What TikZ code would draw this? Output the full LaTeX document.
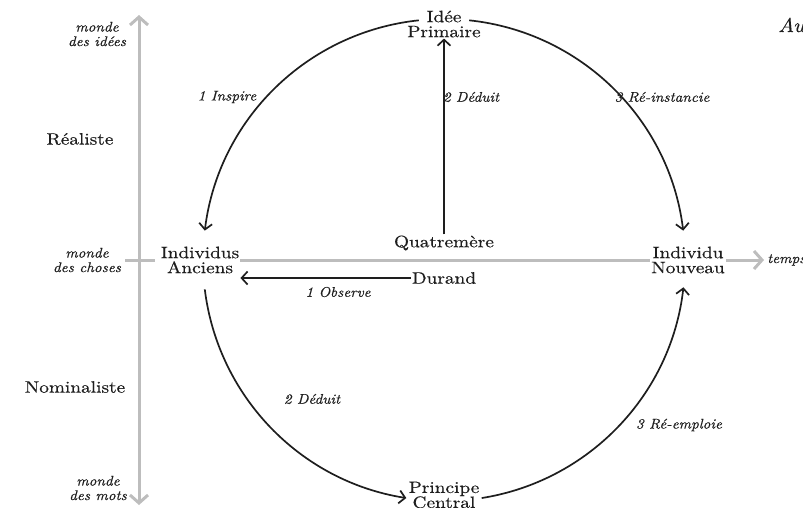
\documentclass[tikz,border=0pt]{standalone}
\usepackage{fontspec}
\usetikzlibrary{arrows.meta,calc}
\newfontfamily\wideroman{lmroman10-regular}[Extension=.otf, ItalicFont=lmroman10-italic, FakeStretch=1.17, FakeBold=0.5]
\newfontfamily\labroman{lmroman10-regular}[Extension=.otf, ItalicFont=lmroman10-italic, FakeStretch=1.08, FakeBold=0.45]
\definecolor{ink}{HTML}{1E1E1E}
\definecolor{axisgray}{HTML}{BDBDBD}
\begin{document}
\begin{tikzpicture}[x=1pt,y=1pt,
  big/.style={font=\wideroman\fontsize{16.5}{15}\selectfont, align=center, inner sep=1pt, text=ink},
  lab/.style={font=\labroman\fontsize{14}{14.5}\selectfont\itshape, align=center, text=ink, inner sep=0pt},
  axisline/.style={draw=axisgray, line width=3pt},
  axisarrow/.style={axisline, -{Straight Barb[length=8pt,width=18pt,line width=3pt]}},
  conn/.style={draw=ink, line width=1.7pt, -{Straight Barb[length=6pt,width=13pt,line width=1.7pt]}}]
\useasboundingbox (0,0) rectangle (803,-507);
\clip (0,0) rectangle (803,-507);

% main nodes
\node[big] (IP) at (444,-24) {Idée\\Primaire};
\node[big] (IA) at (200,-260) {Individus\\Anciens};
\node[big] (IN) at (688,-260) {Individu\\Nouveau};
\node[big] (PC) at (444,-495) {Principe\\Central};
\node[big] (Q) at (444,-243) {Quatremère};
\node[big] (D) at (444,-278) {Durand};
\node[big] (Rea) at (80,-139) {Réaliste};
\node[big] (Nom) at (75,-387) {Nominaliste};

% axis labels
\node[lab] (mi) at (97,-34) {monde\\des idées};
\node[lab] (mc) at (87,-260) {monde\\des choses};
\node[lab] (mm) at (98,-488) {monde\\des mots};
\node[lab, anchor=west] (temps) at (767,-260) {temps};
\node[font=\labroman\fontsize{20}{20}\selectfont\itshape, text=ink, anchor=base west, inner sep=0pt] (au) at (778,-32) {Au};

% axes
\coordinate (axB) at (139,-505);
\coordinate (axT) at (139,-15);
\coordinate (xbL) at (125,-260);
\coordinate (xbR) at (155,-260);
\draw[axisline, {Straight Barb[length=8pt,width=18pt,line width=3pt]}-{Straight Barb[length=8pt,width=18pt,line width=3pt]}] (axB) -- (axT);
\draw[axisline] (xbL) -- (xbR);
\draw[axisline] (IA.east) -- (IN.west);
\draw[axisarrow] (IN.east) -- ([xshift=-3pt]temps.west);

% circle arcs
\coordinate (C) at (444,-260);
\draw[conn] ($(C)+(96:241)$) arc[start angle=96, end angle=173, radius=241];
\draw[conn] ($(C)+(84:241)$) arc[start angle=84, end angle=7, radius=241];
\draw[conn] ($(C)+(187:241)$) arc[start angle=187, end angle=261, radius=241];
\draw[conn] ($(C)+(279:241)$) arc[start angle=279, end angle=353.5, radius=241];

% straight connectors
\draw[conn] (Q.north) -- (IP.south);
\draw[conn] (D.west) -- (D.west -| IA.east);

% connector labels
\node[lab] (l1) at (227,-97) {1 Inspire};
\node[lab] (l2) at (471,-97) {2 Déduit};
\node[lab] (l3) at (662,-97) {3 Ré-instancie};
\node[lab] (l4) at (338,-292) {1 Observe};
\node[lab] (l5) at (312,-399) {2 Déduit};
\node[lab] (l6) at (679,-425) {3 Ré-emploie};
\end{tikzpicture}
\end{document}
